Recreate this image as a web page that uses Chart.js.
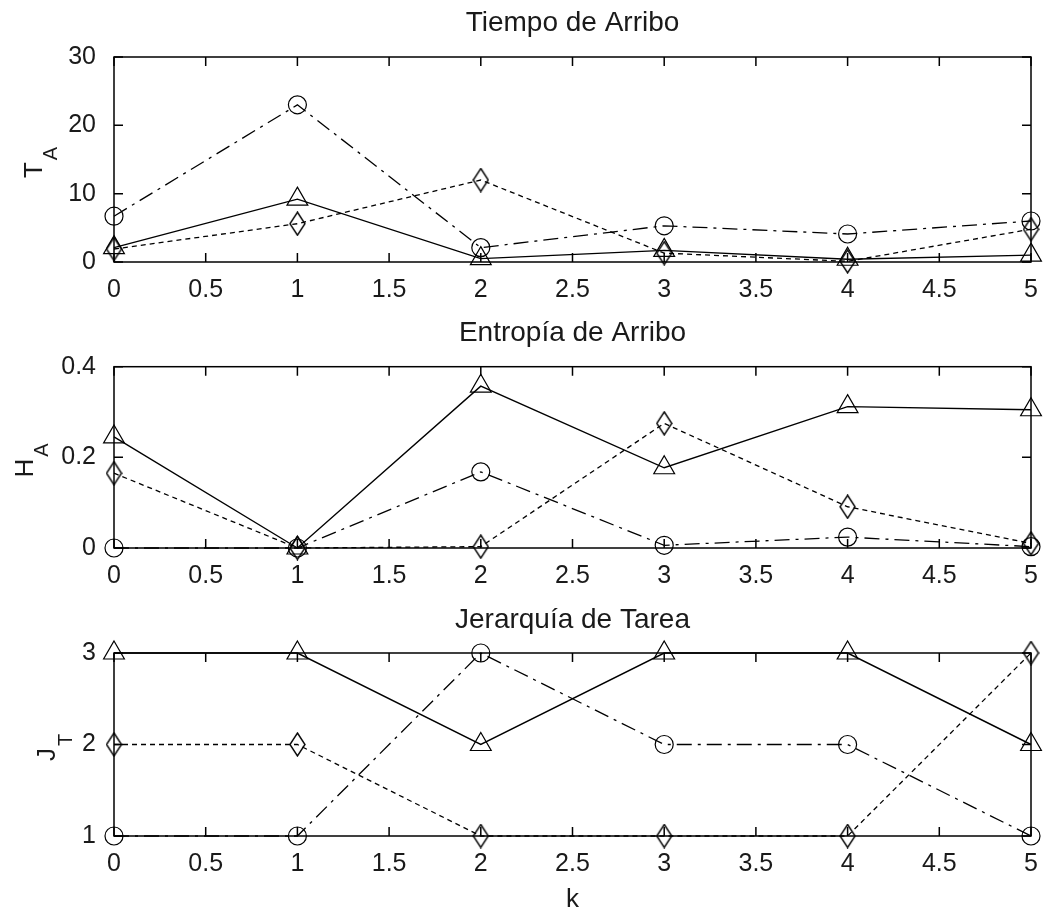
<!DOCTYPE html>
<html>
<head>
<meta charset="utf-8">
<script src="https://cdn.jsdelivr.net/npm/chart.js@4"></script>
<style>
  body { margin: 0; background: #fff; width: 1061px; height: 913px; overflow: hidden; position: relative; }
  canvas { position: absolute; left: 0; }
</style>
</head>
<body>
<canvas id="tiempo" width="1061" height="320" style="top:0px"></canvas>
<canvas id="entropia" width="1061" height="300" style="top:300px"></canvas>
<canvas id="jerarquia" width="1061" height="333" style="top:580px"></canvas>
<script>
// data
const kValues = [0, 1, 2, 3, 4, 5];
const xTicks = [0, 0.5, 1, 1.5, 2, 2.5, 3, 3.5, 4, 4.5, 5];

const tiempoTri  = [2.1, 9.2, 0.5, 1.7, 0.4, 1.0];
const tiempoCirc = [6.7, 23.0, 2.1, 5.3, 4.1, 6.0];
const tiempoDiam = [1.9, 5.6, 12.0, 1.3, 0.1, 4.8];
const tiempoTicks = [0, 10, 20, 30];

const entropiaTri  = [0.245, 0.0, 0.357, 0.177, 0.312, 0.305];
const entropiaCirc = [0.0, 0.0, 0.168, 0.006, 0.024, 0.003];
const entropiaDiam = [0.165, 0.0, 0.003, 0.275, 0.091, 0.01];
const entropiaTicks = [0, 0.2, 0.4];

const jerarquiaTri  = [3, 3, 2, 3, 3, 2];
const jerarquiaCirc = [1, 1, 3, 2, 2, 1];
const jerarquiaDiam = [2, 2, 1, 1, 1, 3];
const jerarquiaTicks = [1, 2, 3];

const FONT = '"Liberation Sans", Arial, sans-serif';
const INK = '#1a1a1a';

// tall thin diamond like matlab's 'd' marker
function diamondMarker(w, h) {
  const c = document.createElement('canvas');
  c.width = w; c.height = h;
  const g = c.getContext('2d');
  g.strokeStyle = '#000';
  g.lineWidth = 1.4;
  g.beginPath();
  g.moveTo(w / 2, 1);
  g.lineTo(w - 1, h / 2);
  g.lineTo(w / 2, h - 1);
  g.lineTo(1, h / 2);
  g.closePath();
  g.stroke();
  return c;
}
const diamond = diamondMarker(17, 25);

// box round the plot with ticks pointing inwards
const framePlugin = {
  id: 'frame',
  beforeDatasetsDraw(chart) {
    const {ctx, chartArea: a, scales: {x, y}} = chart;
    ctx.save();
    ctx.strokeStyle = '#000';
    ctx.lineWidth = 1.5;
    ctx.strokeRect(a.left, a.top, a.right - a.left, a.bottom - a.top);
    ctx.beginPath();
    x.ticks.forEach(t => {
      const px = x.getPixelForValue(t.value);
      ctx.moveTo(px, a.bottom); ctx.lineTo(px, a.bottom - 9);
      ctx.moveTo(px, a.top); ctx.lineTo(px, a.top + 9);
    });
    y.ticks.forEach(t => {
      const py = y.getPixelForValue(t.value);
      ctx.moveTo(a.left, py); ctx.lineTo(a.left + 9, py);
      ctx.moveTo(a.right, py); ctx.lineTo(a.right - 9, py);
    });
    ctx.stroke();
    ctx.restore();
  }
};

// rotated y label with subscript (T_A, H_A, J_T)
const yLabelPlugin = {
  id: 'ylabel',
  afterDraw(chart, args, opts) {
    if (!opts.main) return;
    const {ctx, chartArea: a} = chart;
    const mainFont = '26px ' + FONT, subFont = '20px ' + FONT;
    ctx.save();
    ctx.fillStyle = INK;
    ctx.font = mainFont;
    const w1 = ctx.measureText(opts.main).width;
    ctx.font = subFont;
    const w2 = ctx.measureText(opts.sub).width;
    ctx.translate(0, (a.top + a.bottom) / 2 + 3);
    ctx.rotate(-Math.PI / 2);
    const start = -(w1 + w2 + 2) / 2;
    ctx.textBaseline = 'alphabetic';
    ctx.font = mainFont;
    ctx.fillText(opts.main, start, opts.base);
    ctx.font = subFont;
    ctx.fillText(opts.sub, start + w1 + 2, opts.subBase);
    ctx.restore();
  }
};

function points(vals) {
  return kValues.map((k, i) => ({x: k, y: vals[i]}));
}

function makeChart(id, cfg) {
  const datasets = [
    {
      data: points(cfg.tri), borderColor: '#000', borderWidth: 1.4,
      pointStyle: 'triangle', pointRadius: 12, pointBorderWidth: 1.2,
      pointBorderColor: '#000', pointBackgroundColor: 'rgba(0,0,0,0)', clip: false
    },
    {
      data: points(cfg.circ), borderColor: '#000', borderWidth: 1.3, borderDash: [15, 6, 3, 6],
      pointStyle: 'circle', pointRadius: 9, pointBorderWidth: 1.2,
      pointBorderColor: '#000', pointBackgroundColor: 'rgba(0,0,0,0)', clip: false
    },
    {
      data: points(cfg.diam), borderColor: '#000', borderWidth: 1.3, borderDash: [5, 4],
      pointStyle: diamond, pointRadius: 9, clip: false
    }
  ];

  return new Chart(document.getElementById(id), {
    type: 'line',
    data: {datasets: datasets},
    options: {
      responsive: false,
      animation: false,
      events: [],
      layout: {padding: {top: 0, right: 30, bottom: cfg.bottomPad, left: 0}},
      scales: {
        x: {
          type: 'linear', min: 0, max: 5,
          afterBuildTicks: s => { s.ticks = xTicks.map(v => ({value: v})); },
          afterFit: s => { s.height = cfg.xHeight; },
          grid: {display: false}, border: {display: false},
          ticks: {
            padding: 5, maxRotation: 0, color: INK,
            font: {family: FONT, size: 25},
            callback: v => String(v)
          },
          title: {
            display: !!cfg.xTitle, text: cfg.xTitle || '', color: INK,
            font: {family: FONT, size: 26, lineHeight: 1.0}, padding: 0
          }
        },
        y: {
          type: 'linear', min: cfg.yTicks[0], max: cfg.yTicks[cfg.yTicks.length - 1],
          afterBuildTicks: s => { s.ticks = cfg.yTicks.map(v => ({value: v})); },
          afterFit: s => { s.width = 114; },
          grid: {display: false}, border: {display: false},
          ticks: {
            padding: 10, color: INK,
            font: {family: FONT, size: 25},
            callback: v => String(v)
          }
        }
      },
      plugins: {
        legend: {display: false},
        tooltip: {enabled: false},
        title: {
          display: true, text: cfg.title, fullSize: false, color: INK,
          font: {family: FONT, size: 28, weight: 'normal'},
          padding: cfg.titlePad
        },
        ylabel: cfg.ylabel
      }
    },
    plugins: [framePlugin, yLabelPlugin]
  });
}

makeChart('tiempo', {
  title: 'Tiempo de Arribo', titlePad: {top: 6.2, bottom: 17.2}, xHeight: 40, bottomPad: 18,
  yTicks: tiempoTicks, tri: tiempoTri, circ: tiempoCirc, diam: tiempoDiam,
  ylabel: {main: 'T', sub: 'A', base: 42, subBase: 57}
});

makeChart('entropia', {
  title: 'Entropía de Arribo', titlePad: {top: 16.2, bottom: 16.9}, xHeight: 40, bottomPad: 12,
  yTicks: entropiaTicks, tri: entropiaTri, circ: entropiaCirc, diam: entropiaDiam,
  ylabel: {main: 'H', sub: 'A', base: 33, subBase: 48}
});

makeChart('jerarquia', {
  title: 'Jerarquía de Tarea', titlePad: {top: 23.2, bottom: 16.2}, xHeight: 77, bottomPad: 0, xTitle: 'k',
  yTicks: jerarquiaTicks, tri: jerarquiaTri, circ: jerarquiaCirc, diam: jerarquiaDiam,
  ylabel: {main: 'J', sub: 'T', base: 55, subBase: 72}
});
</script>
</body>
</html>
